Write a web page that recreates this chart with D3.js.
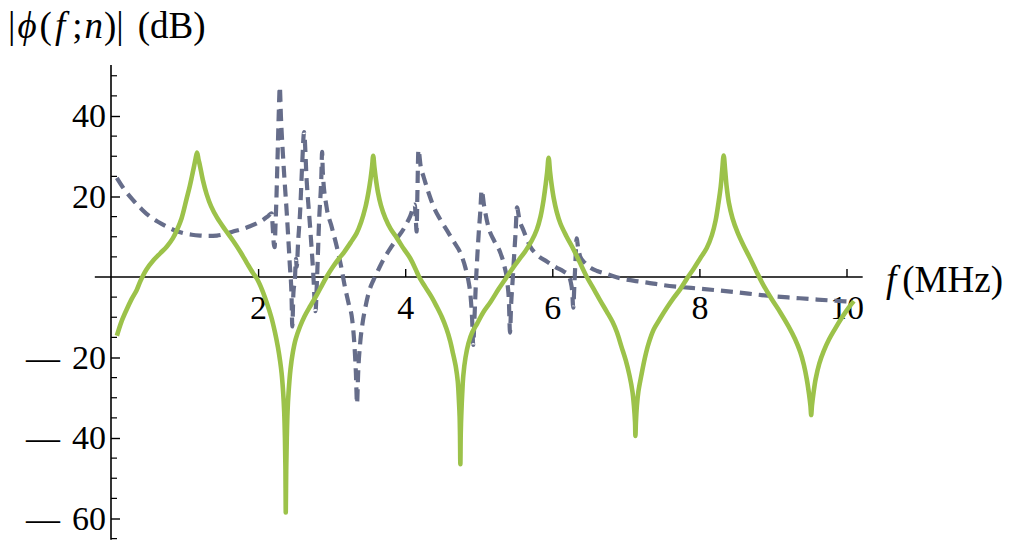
<!DOCTYPE html>
<html>
<head>
<meta charset="utf-8">
<script src="https://cdn.jsdelivr.net/npm/d3@7"></script>
<style>
    body { margin: 0; background: #fff; }
    text { font-family: "Liberation Serif", "DejaVu Serif", serif; }
</style>
</head>
<body>
<div id="chart"></div>
<script>
// frequency (MHz), phi (dB)
var phiSolid = [
    [0.08,-14.6],[0.14,-11.2],[0.21,-8.2],[0.28,-5.5],[0.35,-3.2],[0.40,-1.0],[0.48,1.8],[0.58,4.2],
    [0.67,5.9],[0.76,7.6],[0.84,9.6],[0.90,11.8],[0.96,14.6],[1.03,19.6],[1.07,22.5],[1.10,25.0],
    [1.13,27.6],[1.15,29.4],[1.17,30.9],[1.19,29.2],[1.21,27.6],[1.25,24.0],[1.30,20.6],[1.36,17.6],
    [1.44,14.8],[1.55,11.8],[1.66,9.0],[1.76,6.2],[1.85,3.4],[1.93,1.0],[1.98,-0.3],[2.05,-3.0],
    [2.12,-6.5],[2.18,-10.0],[2.23,-13.8],[2.27,-17.5],[2.30,-21.0],[2.32,-24.0],[2.34,-28.5],[2.355,-33.5],
    [2.365,-40],[2.372,-48],[2.376,-58.5],[2.382,-48],[2.39,-40],[2.40,-33.5],[2.415,-28.5],[2.44,-23.0],
    [2.47,-19.0],[2.51,-15.5],[2.57,-12.3],[2.63,-9.8],[2.71,-7.2],[2.80,-4.4],[2.87,-2.0],[2.93,0],
    [3.02,2.6],[3.10,4.6],[3.17,6.2],[3.26,8.6],[3.34,10.9],[3.40,13.6],[3.46,17.4],[3.50,21.0],
    [3.53,24.5],[3.55,27.5],[3.565,30.1],[3.58,27.5],[3.60,24.5],[3.63,21.0],[3.67,17.8],[3.73,14.6],
    [3.80,12.0],[3.89,9.6],[3.98,7.0],[4.07,4.6],[4.14,2.0],[4.19,0],[4.27,-2.4],[4.36,-5.0],
    [4.43,-7.4],[4.50,-10.0],[4.56,-12.8],[4.61,-15.8],[4.65,-19.0],[4.69,-22.5],[4.715,-26.0],[4.73,-30.5],
    [4.74,-34.5],[4.745,-39],[4.75,-46.5],[4.755,-39],[4.762,-34.5],[4.775,-29],[4.79,-24.5],[4.82,-20.0],
    [4.86,-16.5],[4.91,-13.8],[4.98,-11.5],[5.06,-8.8],[5.16,-6.2],[5.27,-3.0],[5.37,-0.3],[5.47,2.4],
    [5.56,4.6],[5.64,6.6],[5.72,9.0],[5.79,11.8],[5.84,15.0],[5.88,19.0],[5.91,23.0],[5.93,26.0],
    [5.95,29.6],[5.97,26.0],[5.99,23.0],[6.02,19.5],[6.06,16.2],[6.11,13.3],[6.19,10.2],[6.29,6.8],
    [6.38,3.4],[6.47,0],[6.57,-3.2],[6.65,-5.8],[6.74,-8.6],[6.82,-11.2],[6.88,-13.8],[6.94,-17.3],
    [7.00,-20.8],[7.05,-24.5],[7.09,-28.5],[7.11,-32.0],[7.125,-36],[7.13,-39.5],[7.137,-36],[7.15,-32.0],
    [7.17,-28.5],[7.21,-24.5],[7.26,-20.0],[7.31,-16.5],[7.38,-13.0],[7.47,-10.2],[7.56,-7.6],[7.65,-5.2],
    [7.74,-3.0],[7.83,-0.4],[7.92,2.0],[8.01,4.6],[8.10,7.2],[8.17,10.4],[8.22,14.0],[8.26,18.5],
    [8.29,22.5],[8.31,26.5],[8.33,30.2],[8.35,26.5],[8.37,22.5],[8.40,18.5],[8.45,14.6],[8.52,11.0],
    [8.60,7.8],[8.69,4.6],[8.78,1.2],[8.87,-2.0],[8.98,-5.4],[9.10,-8.8],[9.21,-12.2],[9.30,-15.4],
    [9.37,-18.6],[9.42,-21.8],[9.46,-25.4],[9.49,-29.0],[9.51,-32.0],[9.52,-34.3],[9.53,-32.0],[9.55,-29.0],
    [9.58,-25.4],[9.63,-21.5],[9.69,-18.4],[9.76,-15.6],[9.84,-13.0],[9.94,-10.0],[10.03,-7.6],[10.10,-6.0]
];

var phiDashed = [
    [0.08,24.6],[0.18,21.8],[0.30,19.1],[0.42,16.8],[0.53,15.0],[0.65,13.6],[0.76,12.5],[0.88,11.5],
    [0.98,10.9],[1.10,10.5],[1.21,10.3],[1.33,10.2],[1.44,10.3],[1.55,10.7],[1.66,11.3],[1.78,11.9],
    [1.89,12.6],[1.99,13.4],[2.07,14.2],[2.14,15.2],[2.185,15.8],[2.20,12.0],[2.215,8.0],[2.225,7.4],
    [2.235,12],[2.25,20],[2.265,30],[2.28,40],[2.295,47.3],[2.31,40],[2.345,28.2],[2.39,15.8],
    [2.43,3.4],[2.455,-5],[2.465,-12.3],[2.48,-4],[2.50,-0.7],[2.515,4.5],[2.525,2.5],[2.545,9],
    [2.57,15.8],[2.60,28.2],[2.625,36],[2.66,24.1],[2.71,11.7],[2.75,0.9],[2.78,-8.5],[2.80,-1],
    [2.83,14.2],[2.86,25],[2.87,31.1],[2.88,26],[2.93,17.5],[3.00,12.5],[3.07,7.5],[3.13,2.5],
    [3.18,-2.4],[3.23,-6.5],[3.28,-10.7],[3.31,-17],[3.33,-24],[3.345,-31.5],[3.36,-24],[3.39,-16],
    [3.42,-11.5],[3.46,-7.4],[3.51,-3.5],[3.57,-0.7],[3.64,2.0],[3.70,4.2],[3.78,6.6],[3.89,9.6],
    [3.98,12.0],[4.07,15.2],[4.13,18.0],[4.145,14],[4.155,11.3],[4.165,20],[4.18,31.6],[4.21,27.5],
    [4.25,24.9],[4.32,20.8],[4.39,17.3],[4.48,14.2],[4.57,11.5],[4.66,8.8],[4.75,6.0],[4.82,2.2],
    [4.86,-1.0],[4.89,-5],[4.91,-10.5],[4.925,-16.9],[4.94,-11],[4.96,-2],[4.98,5],[5.00,11],
    [5.02,16],[5.04,21.6],[5.07,18.0],[5.13,12.5],[5.21,9.0],[5.29,6.2],[5.35,2.6],[5.39,-1.5],
    [5.41,-6],[5.425,-13.8],[5.44,-7],[5.46,-1],[5.48,5],[5.50,10.8],[5.52,17.3],[5.55,14.5],
    [5.61,11.5],[5.70,7.6],[5.80,5.4],[5.93,3.8],[6.05,2.4],[6.15,1.4],[6.21,0.6],[6.25,-1.2],
    [6.27,-3.5],[6.285,-7.6],[6.30,-2],[6.315,4],[6.33,9.6],[6.35,7.4],[6.38,5.0],[6.45,3.4],
    [6.53,2.2],[6.61,1.5],[6.75,0.7],[6.92,-0.3],[7.10,-0.9],[7.29,-1.4],[7.50,-2.0],[7.75,-2.5],
    [8.01,-2.9],[8.29,-3.4],[8.55,-3.9],[8.80,-4.4],[9.01,-4.8],[9.30,-5.2],[9.60,-5.6],[9.85,-5.9],
    [10.05,-6.1]
];

var xTicks = [2, 4, 6, 8, 10];
var yTicks = [-60, -40, -20, 20, 40];
var yMinorTicks = [-65, -55, -50, -45, -35, -30, -25, -15, -10, -5, 5, 10, 15, 25, 30, 35, 45, 50];
var xExtent = [-0.22, 10.22];
var yExtent = [-65.3, 52.7];

var width = 1024,
    height = 552,
    tickFont = 34;

var svg = d3.select("#chart")
    .append("svg")
    .attr("width", width)
    .attr("height", height);

var x = d3.scaleLinear().domain([0, 10]).range([111, 846.5]);
var y = d3.scaleLinear().domain([0, -60]).range([277, 518.5]);

var line = d3.line()
    .x(function(d) { return x(d[0]); })
    .y(function(d) { return y(d[1]); })
    .curve(d3.curveMonotoneX);

var smoothLine = d3.line()
    .x(function(d) { return x(d[0]); })
    .y(function(d) { return y(d[1]); })
    .curve(d3.curveCatmullRom.alpha(0.5));

// axis lines
svg.append("line")
    .attr("x1", x(xExtent[0])).attr("x2", x(xExtent[1]))
    .attr("y1", y(0)).attr("y2", y(0))
    .attr("stroke", "#000").attr("stroke-width", 1.6);
svg.append("line")
    .attr("x1", x(0)).attr("x2", x(0))
    .attr("y1", y(yExtent[1])).attr("y2", y(yExtent[0]))
    .attr("stroke", "#000").attr("stroke-width", 1.6);

// x ticks point up, labels below
var xAxis = svg.append("g")
    .attr("transform", "translate(0," + y(0) + ")")
    .call(d3.axisBottom(x).tickValues(xTicks).tickSizeInner(-8).tickSizeOuter(0).tickPadding(18)
        .tickFormat(d3.format("d")));
xAxis.select(".domain").remove();
xAxis.selectAll("line").attr("stroke-width", 1.4);
xAxis.selectAll("text")
    .attr("font-family", "Liberation Serif")
    .attr("font-size", tickFont)
    .attr("fill", "#000");

// y ticks point right; labels built by hand to get the wide minus
var yAxis = svg.append("g")
    .attr("transform", "translate(" + x(0) + ",0)")
    .call(d3.axisLeft(y).tickValues(yTicks).tickSizeInner(-9).tickSizeOuter(0).tickPadding(5)
        .tickFormat(""));
yAxis.select(".domain").remove();
yAxis.selectAll("line").attr("stroke-width", 1.4);
yAxis.selectAll(".tick text").each(function(d) {
    var t = d3.select(this)
        .attr("font-family", "Liberation Serif")
        .attr("font-size", tickFont)
        .attr("fill", "#000");
    if (d < 0) {
        t.append("tspan").text("\u2014");
        t.append("tspan").attr("dx", 12).text(Math.abs(d));
    } else {
        t.append("tspan").text(d);
    }
});

svg.append("g")
    .selectAll("line")
    .data(yMinorTicks)
    .enter()
    .append("line")
    .attr("x1", x(0)).attr("x2", x(0) + 6)
    .attr("y1", function(d) { return y(d); })
    .attr("y2", function(d) { return y(d); })
    .attr("stroke", "#000").attr("stroke-width", 1.2);

// curves
svg.append("path")
    .datum(phiDashed)
    .attr("d", line)
    .attr("fill", "none")
    .attr("stroke", "#666d8a")
    .attr("stroke-width", 4.2)
    .attr("stroke-dasharray", "12,7");

svg.append("path")
    .datum(phiSolid)
    .attr("d", smoothLine)
    .attr("fill", "none")
    .attr("stroke", "#9cc24a")
    .attr("stroke-width", 4.6)
    .attr("stroke-linejoin", "round");

// axis titles
var yTitle = svg.append("text")
    .attr("x", 8)
    .attr("y", 38)
    .attr("font-size", 37)
    .attr("fill", "#000");
yTitle.append("tspan").text("|");
yTitle.append("tspan").attr("dx", 2).attr("font-style", "italic").text("\u03d5");
yTitle.append("tspan").attr("dx", 3).text("(");
yTitle.append("tspan").attr("dx", 3).attr("font-style", "italic").text("f");
yTitle.append("tspan").attr("dx", 7).text(";");
yTitle.append("tspan").attr("dx", 2).attr("font-style", "italic").text("n");
yTitle.append("tspan").attr("dx", 1).text(")|");
yTitle.append("tspan").attr("dx", 14).text("(dB)");

var xTitle = svg.append("text")
    .attr("x", 886)
    .attr("y", 292)
    .attr("font-size", 37)
    .attr("fill", "#000");
xTitle.append("tspan").attr("font-style", "italic").text("f");
xTitle.append("tspan").attr("dx", 6).text("(MHz)");
</script>
</body>
</html>
